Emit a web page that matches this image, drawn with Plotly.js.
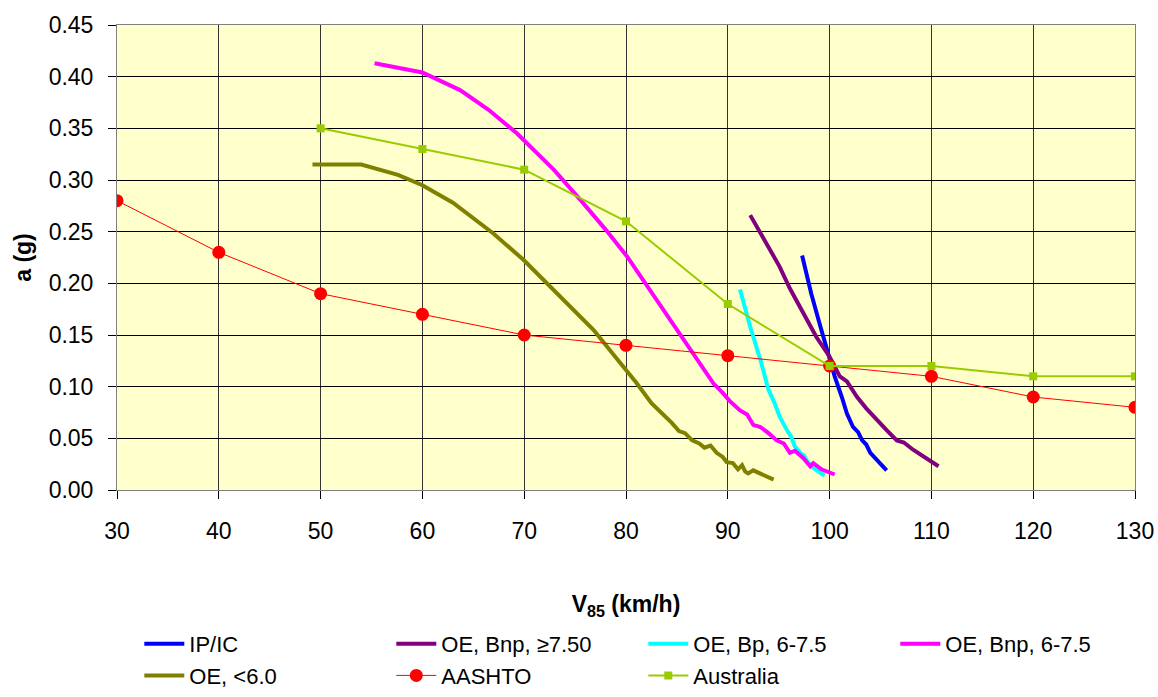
<!DOCTYPE html>
<html>
<head>
<meta charset="utf-8">
<script src="https://cdn.plot.ly/plotly-3.0.1.min.js"></script>
<style>html,body{margin:0;padding:0;background:#fff;}#chart{width:1158px;height:697px;}</style>
</head>
<body>
<div id="chart"></div>
<script>
// IP/IC
const ipicV = [97.3, 98.2, 99.1, 99.9, 100.5, 101.2, 101.7, 102.3, 102.8, 103.2, 103.6, 104.0, 104.8, 105.6];
const ipicA = [0.227, 0.190, 0.158, 0.129, 0.110, 0.090, 0.074, 0.061, 0.056, 0.048, 0.044, 0.036, 0.027, 0.019];
// OE, Bnp, >=7.50
const bnp75V = [92.2, 93.8, 95.1, 96.1, 97.4, 98.7, 100.0, 101.0, 101.7, 102.7, 103.6, 104.6, 105.6, 106.6, 107.3, 108.2, 109.4, 110.7];
const bnp75A = [0.266, 0.239, 0.216, 0.195, 0.171, 0.148, 0.129, 0.110, 0.105, 0.090, 0.079, 0.068, 0.058, 0.048, 0.046, 0.039, 0.031, 0.023];
// OE, Bp, 6-7.5
const bpV = [91.2, 92.2, 93.2, 94.0, 94.6, 95.1, 95.8, 96.2, 96.6, 97.1, 97.5, 97.9, 98.6, 99.5];
const bpA = [0.194, 0.158, 0.126, 0.097, 0.084, 0.071, 0.058, 0.052, 0.042, 0.036, 0.033, 0.026, 0.020, 0.014];
// OE, Bnp, 6-7.5
const bnpV = [55.3, 60.0, 63.7, 66.5, 69.3, 72.9, 75.5, 78.0, 80.1, 83.0, 85.6, 86.6, 88.6, 89.5, 90.2, 91.2, 91.9, 92.5, 93.2, 94.0, 94.8, 95.5, 96.1, 96.6, 97.4, 98.1, 98.4, 99.2, 100.5];
const bnpA = [0.413, 0.404, 0.387, 0.368, 0.345, 0.310, 0.281, 0.252, 0.226, 0.184, 0.148, 0.132, 0.103, 0.094, 0.086, 0.077, 0.073, 0.063, 0.061, 0.055, 0.048, 0.045, 0.036, 0.038, 0.031, 0.023, 0.026, 0.020, 0.015];
// OE, <6.0
const lt6V = [49.2, 54.0, 57.6, 60.0, 63.0, 67.0, 69.9, 72.2, 74.3, 76.8, 79.1, 81.0, 82.5, 83.5, 84.5, 85.2, 85.8, 86.5, 87.2, 87.7, 88.3, 88.9, 89.5, 89.9, 90.5, 91.0, 91.4, 91.7, 92.0, 92.5, 93.0, 94.5];
const lt6A = [0.315, 0.315, 0.305, 0.295, 0.278, 0.248, 0.223, 0.200, 0.179, 0.155, 0.127, 0.104, 0.084, 0.075, 0.065, 0.057, 0.055, 0.048, 0.045, 0.041, 0.043, 0.036, 0.032, 0.027, 0.026, 0.020, 0.024, 0.018, 0.016, 0.019, 0.017, 0.010];
// AASHTO
const aashtoV = [30, 40, 50, 60, 70, 80, 90, 100, 110, 120, 130];
const aashtoA = [0.28, 0.23, 0.19, 0.17, 0.15, 0.14, 0.13, 0.12, 0.11, 0.09, 0.08];
// Australia
const ausV = [50, 60, 70, 80, 90, 100, 110, 120, 130];
const ausA = [0.35, 0.33, 0.31, 0.26, 0.18, 0.12, 0.12, 0.11, 0.11];

const F = 'Arial, "Liberation Sans", sans-serif';
const FS = 23;
function ln(name, x, y, color) {
  return {type: 'scatter', mode: 'lines', name: name, x: x, y: y,
          line: {color: color, width: 4}};
}
const traces = [
  ln('IP/IC', ipicV, ipicA, '#0000FF'),
  ln('OE, Bnp, ≥7.50', bnp75V, bnp75A, '#800080'),
  ln('OE, Bp, 6-7.5', bpV, bpA, '#00FFFF'),
  ln('OE, Bnp, 6-7.5', bnpV, bnpA, '#FF00FF'),
  ln('OE, <6.0', lt6V, lt6A, '#808000'),
  {type: 'scatter', mode: 'lines+markers', name: 'AASHTO', x: aashtoV, y: aashtoA,
   line: {color: '#FF0000', width: 1}, marker: {color: '#FF0000', size: 13, symbol: 'circle'}},
  {type: 'scatter', mode: 'lines+markers', name: 'Australia', x: ausV, y: ausA,
   line: {color: '#99CC00', width: 2}, marker: {color: '#99CC00', size: 8, symbol: 'square'}}
];

const layout = {
  width: 1158, height: 697,
  margin: {l: 117, r: 23, t: 25, b: 207},
  paper_bgcolor: '#FFFFFF',
  plot_bgcolor: '#FFFFCC',
  font: {family: F, size: FS, color: '#000'},
  showlegend: true,
  xaxis: {
    range: [30, 130], dtick: 10, tick0: 30,
    showgrid: true, gridcolor: '#333', gridwidth: 1,
    showline: true, linecolor: '#808080', linewidth: 1, mirror: true,
    ticks: 'outside', ticklen: 8, tickcolor: '#000',
    ticklabelstandoff: 12,
    zeroline: false,
    tickfont: {family: F, size: FS},
    title: {text: '<b>V<sub>85</sub> (km/h)</b>', font: {family: F, size: FS}, standoff: 53}
  },
  yaxis: {
    range: [0, 0.45], dtick: 0.05, tick0: 0, tickformat: '.2f',
    showgrid: true, gridcolor: '#000', gridwidth: 1,
    showline: true, linecolor: '#808080', linewidth: 1, mirror: true,
    ticks: 'outside', ticklen: 8, tickcolor: '#000',
    ticklabelstandoff: 10,
    zeroline: false,
    tickfont: {family: F, size: FS},
    title: {text: '<b>a (g)</b>', font: {family: F, size: FS}, standoff: 10}
  },
  legend: {
    orientation: 'h',
    xref: 'container', yref: 'container',
    x: 0.1203, y: 0, xanchor: 'left', yanchor: 'bottom',
    entrywidth: 197, entrywidthmode: 'pixels',
    font: {family: F, size: 22},
    itemwidth: 40,
    tracegroupgap: 0,
    bgcolor: 'rgba(0,0,0,0)'
  }
};

Plotly.newPlot('chart', traces, layout, {displayModeBar: false, staticPlot: true});
</script>
</body>
</html>
